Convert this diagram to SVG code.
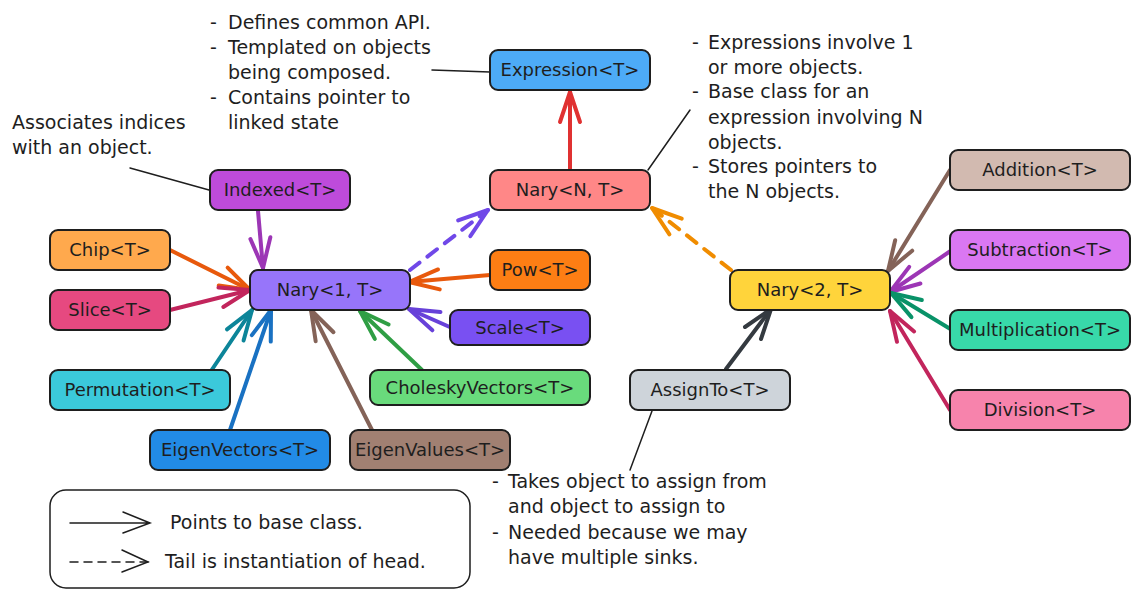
<svg xmlns="http://www.w3.org/2000/svg" width="1140" height="600" viewBox="0 0 1140 600">
<style>
  .box { stroke: #1e1e1e; stroke-width: 2; }
  .lbl { font-family: "DejaVu Sans", "Liberation Sans", sans-serif; font-size: 18px; fill: #1e1e1e; text-anchor: middle; }
  .note { font-family: "DejaVu Sans", "Liberation Sans", sans-serif; font-size: 19px; fill: #1e1e1e; }
  .thin { stroke: #1e1e1e; stroke-width: 1.5; fill: none; stroke-linecap: round; }
  .arr { fill: none; stroke-width: 4; stroke-linecap: round; }
  .dash { stroke-dasharray: 12 10; }
</style>
<defs>
  <marker id="h-red" markerUnits="userSpaceOnUse" orient="auto" overflow="visible" refX="0" refY="0"><path d="M-30,-10 L0,0 L-30,10" fill="none" stroke="#e03131" stroke-width="4" stroke-linecap="round" stroke-linejoin="round"/></marker>
  <marker id="h-violet" markerUnits="userSpaceOnUse" orient="auto" overflow="visible"><path d="M-30,-10 L0,0 L-30,10" fill="none" stroke="#7048e8" stroke-width="4" stroke-linecap="round" stroke-linejoin="round"/></marker>
  <marker id="h-amber" markerUnits="userSpaceOnUse" orient="auto" overflow="visible"><path d="M-30,-10 L0,0 L-30,10" fill="none" stroke="#f08c00" stroke-width="4" stroke-linecap="round" stroke-linejoin="round"/></marker>
  <marker id="h-grape" markerUnits="userSpaceOnUse" orient="auto" overflow="visible"><path d="M-30,-10 L0,0 L-30,10" fill="none" stroke="#9c36b5" stroke-width="4" stroke-linecap="round" stroke-linejoin="round"/></marker>
  <marker id="h-orange" markerUnits="userSpaceOnUse" orient="auto" overflow="visible"><path d="M-30,-10 L0,0 L-30,10" fill="none" stroke="#e8590c" stroke-width="4" stroke-linecap="round" stroke-linejoin="round"/></marker>
  <marker id="h-crimson" markerUnits="userSpaceOnUse" orient="auto" overflow="visible"><path d="M-30,-10 L0,0 L-30,10" fill="none" stroke="#c2255c" stroke-width="4" stroke-linecap="round" stroke-linejoin="round"/></marker>
  <marker id="h-teal" markerUnits="userSpaceOnUse" orient="auto" overflow="visible"><path d="M-30,-10 L0,0 L-30,10" fill="none" stroke="#0c8599" stroke-width="4" stroke-linecap="round" stroke-linejoin="round"/></marker>
  <marker id="h-blue" markerUnits="userSpaceOnUse" orient="auto" overflow="visible"><path d="M-30,-10 L0,0 L-30,10" fill="none" stroke="#1971c2" stroke-width="4" stroke-linecap="round" stroke-linejoin="round"/></marker>
  <marker id="h-brown" markerUnits="userSpaceOnUse" orient="auto" overflow="visible"><path d="M-30,-10 L0,0 L-30,10" fill="none" stroke="#846358" stroke-width="4" stroke-linecap="round" stroke-linejoin="round"/></marker>
  <marker id="h-green" markerUnits="userSpaceOnUse" orient="auto" overflow="visible"><path d="M-30,-10 L0,0 L-30,10" fill="none" stroke="#2f9e44" stroke-width="4" stroke-linecap="round" stroke-linejoin="round"/></marker>
  <marker id="h-violet2" markerUnits="userSpaceOnUse" orient="auto" overflow="visible"><path d="M-30,-10 L0,0 L-30,10" fill="none" stroke="#6741d9" stroke-width="4" stroke-linecap="round" stroke-linejoin="round"/></marker>
  <marker id="h-green2" markerUnits="userSpaceOnUse" orient="auto" overflow="visible"><path d="M-30,-10 L0,0 L-30,10" fill="none" stroke="#099268" stroke-width="4" stroke-linecap="round" stroke-linejoin="round"/></marker>
  <marker id="h-dark" markerUnits="userSpaceOnUse" orient="auto" overflow="visible"><path d="M-30,-10 L0,0 L-30,10" fill="none" stroke="#343a40" stroke-width="4" stroke-linecap="round" stroke-linejoin="round"/></marker>
</defs>
<rect width="1140" height="600" fill="#ffffff"/>

<g id="connectors">
  <path class="arr" stroke="#e03131" d="M570,170 L570,92" marker-end="url(#h-red)"/>
  <path class="arr dash" stroke="#7048e8" d="M410,270 L488,210" marker-end="url(#h-violet)"/>
  <path class="arr dash" stroke="#f08c00" d="M731,270 L652,208" marker-end="url(#h-amber)"/>
  <path class="arr" stroke="#9c36b5" d="M258,211 L263,268" marker-end="url(#h-grape)"/>
  <path class="arr" stroke="#e8590c" d="M170,250 L250,290" marker-end="url(#h-orange)"/>
  <path class="arr" stroke="#c2255c" d="M170,310 L250,290" marker-end="url(#h-crimson)"/>
  <path class="arr" stroke="#0c8599" d="M211,371 L252,310" marker-end="url(#h-teal)"/>
  <path class="arr" stroke="#1971c2" d="M230,430 L271,310" marker-end="url(#h-blue)"/>
  <path class="arr" stroke="#846358" d="M372,430 L311,310" marker-end="url(#h-brown)"/>
  <path class="arr" stroke="#2f9e44" d="M422,370 L360,311" marker-end="url(#h-green)"/>
  <path class="arr" stroke="#6741d9" d="M452,328 L409,309" marker-end="url(#h-violet2)"/>
  <path class="arr" stroke="#e8590c" d="M490,275 L409,282" marker-end="url(#h-orange)"/>
  <path class="arr" stroke="#846358" d="M950,170 L888,271" marker-end="url(#h-brown)"/>
  <path class="arr" stroke="#9c36b5" d="M952,250 L890,292" marker-end="url(#h-grape)"/>
  <path class="arr" stroke="#099268" d="M952,330 L891,293" marker-end="url(#h-green2)"/>
  <path class="arr" stroke="#c2255c" d="M950,410 L890,311" marker-end="url(#h-crimson)"/>
  <path class="arr" stroke="#343a40" d="M726,369 L771,309" marker-end="url(#h-dark)"/>
  <path class="thin" d="M130,168 L209,190"/>
  <path class="thin" d="M432,70 L490,72"/>
  <path class="thin" d="M648,170 L690,110"/>
  <path class="thin" d="M652,411 L630,470"/>
</g>

<g id="node-expression"><rect class="box" x="490" y="50" width="160" height="40" rx="8" fill="#4dabf7"/><text class="lbl" x="570" y="76">Expression&lt;T&gt;</text></g>
<g id="node-naryN"><rect class="box" x="490" y="170" width="160" height="40" rx="8" fill="#ff8787"/><text class="lbl" x="570" y="196">Nary&lt;N, T&gt;</text></g>
<g id="node-indexed"><rect class="box" x="210" y="170" width="140" height="40" rx="8" fill="#be4bdb"/><text class="lbl" x="280" y="196">Indexed&lt;T&gt;</text></g>
<g id="node-chip"><rect class="box" x="50" y="230" width="120" height="40" rx="8" fill="#ffa94d"/><text class="lbl" x="110" y="256">Chip&lt;T&gt;</text></g>
<g id="node-slice"><rect class="box" x="50" y="290" width="120" height="40" rx="8" fill="#e64980"/><text class="lbl" x="110" y="316">Slice&lt;T&gt;</text></g>
<g id="node-nary1"><rect class="box" x="250" y="270" width="160" height="40" rx="8" fill="#9775fa"/><text class="lbl" x="330" y="296">Nary&lt;1, T&gt;</text></g>
<g id="node-pow"><rect class="box" x="490" y="250" width="100" height="40" rx="8" fill="#fd7e14"/><text class="lbl" x="540" y="276">Pow&lt;T&gt;</text></g>
<g id="node-scale"><rect class="box" x="450" y="310" width="140" height="35" rx="8" fill="#7950f2"/><text class="lbl" x="520" y="334">Scale&lt;T&gt;</text></g>
<g id="node-permutation"><rect class="box" x="50" y="370" width="180" height="40" rx="8" fill="#3bc9db"/><text class="lbl" x="140" y="396">Permutation&lt;T&gt;</text></g>
<g id="node-cholesky"><rect class="box" x="370" y="370" width="220" height="35" rx="8" fill="#69db7c"/><text class="lbl" x="480" y="394">CholeskyVectors&lt;T&gt;</text></g>
<g id="node-eigenvectors"><rect class="box" x="150" y="430" width="180" height="40" rx="8" fill="#228be6"/><text class="lbl" x="240" y="456">EigenVectors&lt;T&gt;</text></g>
<g id="node-eigenvalues"><rect class="box" x="350" y="430" width="160" height="40" rx="8" fill="#a18072"/><text class="lbl" x="430" y="456">EigenValues&lt;T&gt;</text></g>
<g id="node-nary2"><rect class="box" x="730" y="270" width="160" height="40" rx="8" fill="#ffd43b"/><text class="lbl" x="810" y="296">Nary&lt;2, T&gt;</text></g>
<g id="node-assignto"><rect class="box" x="630" y="370" width="160" height="40" rx="8" fill="#ced4da"/><text class="lbl" x="710" y="396">AssignTo&lt;T&gt;</text></g>
<g id="node-addition"><rect class="box" x="950" y="150" width="180" height="40" rx="8" fill="#d2bab0"/><text class="lbl" x="1040" y="176">Addition&lt;T&gt;</text></g>
<g id="node-subtraction"><rect class="box" x="950" y="230" width="180" height="40" rx="8" fill="#da77f2"/><text class="lbl" x="1040" y="256">Subtraction&lt;T&gt;</text></g>
<g id="node-multiplication"><rect class="box" x="950" y="310" width="180" height="40" rx="8" fill="#38d9a9"/><text class="lbl" x="1040" y="336">Multiplication&lt;T&gt;</text></g>
<g id="node-division"><rect class="box" x="950" y="390" width="180" height="40" rx="8" fill="#f783ac"/><text class="lbl" x="1040" y="416">Division&lt;T&gt;</text></g>

<g id="note-expression">
  <text class="note" y="29"><tspan x="210">-</tspan><tspan x="228">Defines common API.</tspan></text>
  <text class="note" y="54"><tspan x="210">-</tspan><tspan x="228">Templated on objects</tspan></text>
  <text class="note" x="228" y="79">being composed.</text>
  <text class="note" y="104"><tspan x="210">-</tspan><tspan x="228">Contains pointer to</tspan></text>
  <text class="note" x="228" y="129">linked state</text>
</g>
<g id="note-indexed">
  <text class="note" x="12" y="129">Associates indices</text>
  <text class="note" x="12" y="154">with an object.</text>
</g>
<g id="note-naryN">
  <text class="note" y="49"><tspan x="692">-</tspan><tspan x="708">Expressions involve 1</tspan></text>
  <text class="note" x="708" y="74">or more objects.</text>
  <text class="note" y="98"><tspan x="692">-</tspan><tspan x="708">Base class for an</tspan></text>
  <text class="note" x="708" y="124">expression involving N</text>
  <text class="note" x="708" y="149">objects.</text>
  <text class="note" y="173"><tspan x="692">-</tspan><tspan x="708">Stores pointers to</tspan></text>
  <text class="note" x="708" y="198">the N objects.</text>
</g>
<g id="note-assignto">
  <text class="note" y="488"><tspan x="492">-</tspan><tspan x="508">Takes object to assign from</tspan></text>
  <text class="note" x="508" y="513">and object to assign to</text>
  <text class="note" y="539"><tspan x="492">-</tspan><tspan x="508">Needed because we may</tspan></text>
  <text class="note" x="508" y="564">have multiple sinks.</text>
</g>
<g id="legend">
  <rect x="50" y="490" width="420" height="98" rx="16" fill="none" stroke="#1e1e1e" stroke-width="1.5"/>
  <path class="thin" d="M70,523 L150,523 M123,512 L150,523 L123,533"/>
  <path class="thin" d="M70,562 L148,562" stroke-dasharray="8 6"/>
  <path class="thin" d="M122,550 L148,562 L122,572"/>
  <text class="note" x="170" y="529">Points to base class.</text>
  <text class="note" x="165" y="568">Tail is instantiation of head.</text>
</g>
</svg>
